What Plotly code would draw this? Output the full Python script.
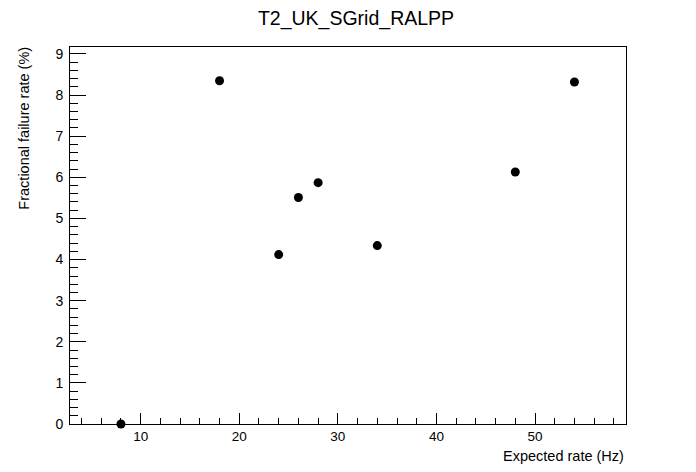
import plotly.graph_objects as go

title = "T2_UK_SGrid_RALPP"
x_label = "Expected rate (Hz)"
y_label = "Fractional failure rate (%)"
expected_rate = [8, 18, 24, 26, 28, 34, 48, 54]
failure_rate = [0.0, 8.35, 4.12, 5.51, 5.87, 4.34, 6.13, 8.32]
x_range = [2.83, 59.23]
y_range = [0.0, 9.17]

FONT = "Liberation Sans, Arial, Helvetica, sans-serif"

fig = go.Figure()
fig.add_trace(go.Scatter(
    x=expected_rate, y=failure_rate, mode="markers",
    marker=dict(color="black", size=9, symbol="circle"),
    cliponaxis=False, showlegend=False,
))

fig.update_layout(
    width=696, height=472,
    margin=dict(l=62, r=78, t=39, b=56),
    paper_bgcolor="white", plot_bgcolor="white",
    font=dict(family=FONT, color="black", size=14),
    title=dict(text=title, x=0.5, xanchor="center", y=0.978, yanchor="middle",
               font=dict(size=19.5, family=FONT, color="black")),
    xaxis=dict(
        range=x_range, showgrid=False, zeroline=False,
        showline=True, linecolor="black", linewidth=1, mirror=True,
        ticks="inside", ticklen=11, tickwidth=1, tickcolor="black",
        tick0=0, dtick=10, ticklabelstandoff=0,
        minor=dict(ticks="inside", ticklen=6, dtick=2, tick0=0, tickcolor="black", showgrid=False),
        tickfont=dict(size=13.5),
    ),
    yaxis=dict(
        range=y_range, showgrid=False, zeroline=False,
        showline=True, linecolor="black", linewidth=1, mirror=True,
        ticks="inside", ticklen=16, tickwidth=1, tickcolor="black",
        tick0=0, dtick=1, ticklabelstandoff=3,
        minor=dict(ticks="inside", ticklen=8, dtick=0.2, tick0=0, tickcolor="black", showgrid=False),
        tickfont=dict(size=14),
    ),
    annotations=[
        dict(text=x_label, xref="paper", yref="paper", x=1.0, y=-0.058,
             xanchor="right", yanchor="top", showarrow=False,
             font=dict(size=14.5, family=FONT, color="black")),
        dict(text=y_label, xref="paper", yref="paper", x=-0.082, y=1.006,
             xanchor="center", yanchor="top", textangle=-90, showarrow=False,
             font=dict(size=14.5, family=FONT, color="black")),
    ],
)

fig.write_html("out.html")
